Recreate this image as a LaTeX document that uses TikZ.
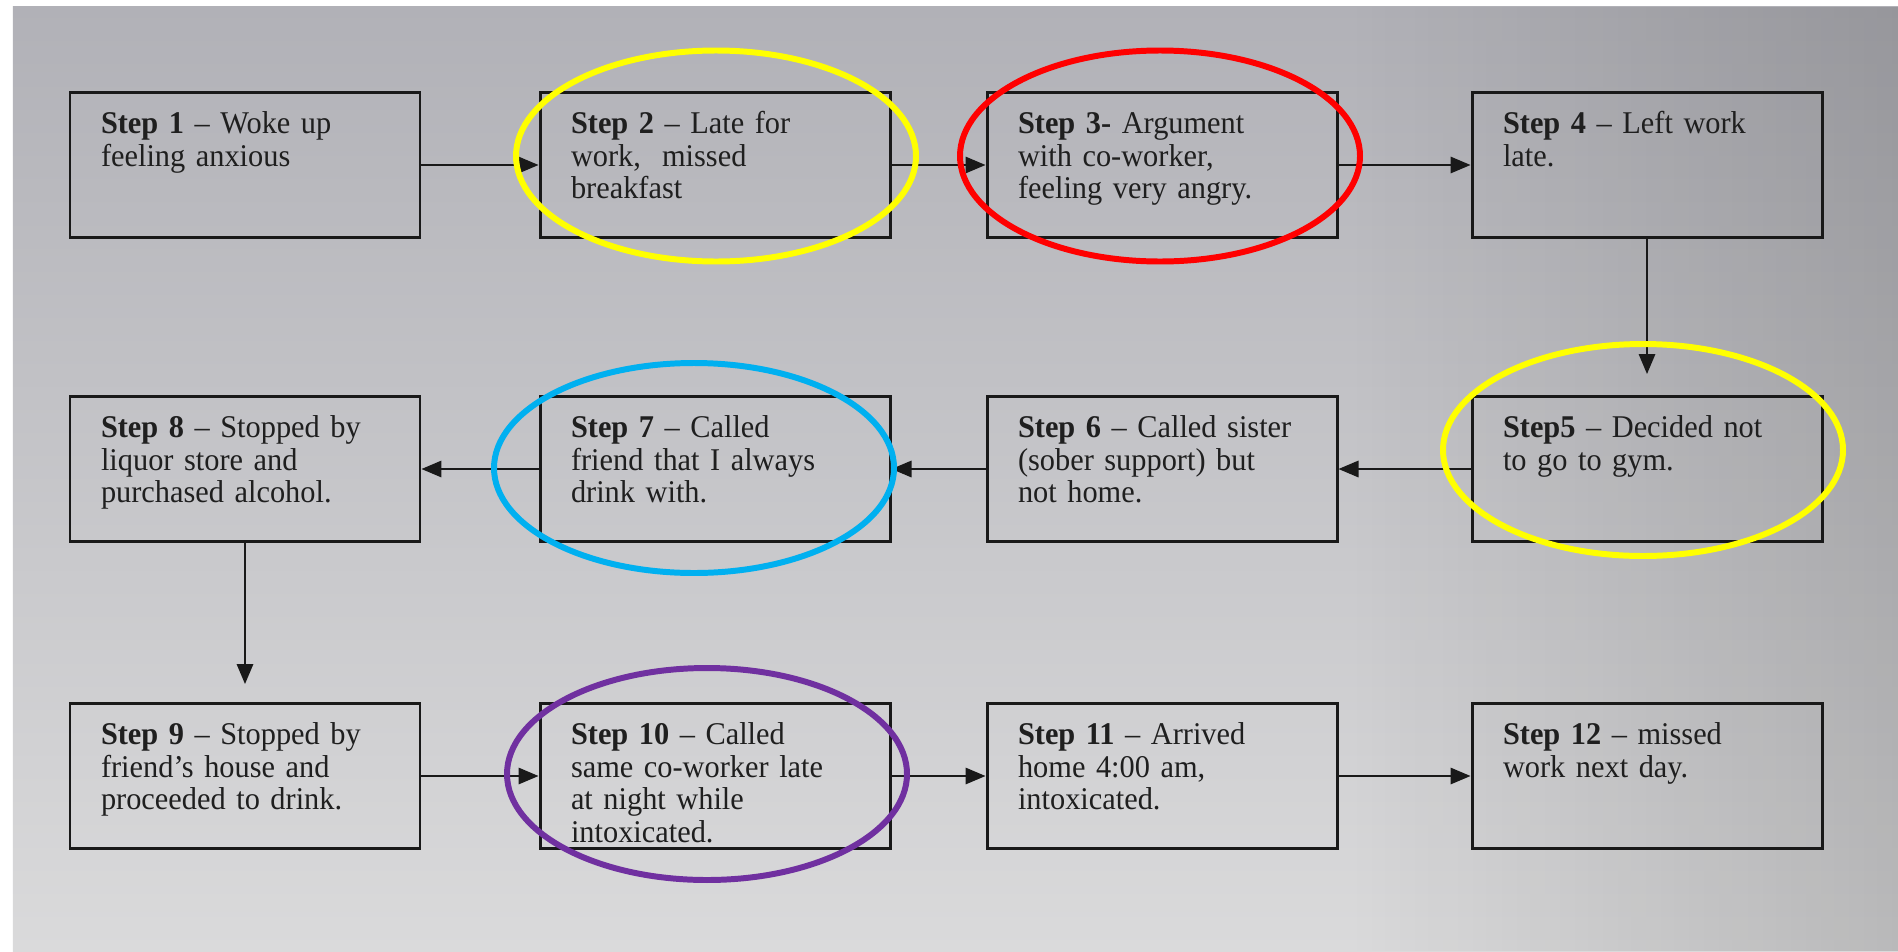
\documentclass[tikz,border=0pt]{standalone}
\usepackage{fontspec}
\setmainfont[FakeStretch=0.96]{Liberation Serif}
\usetikzlibrary{arrows.meta,fadings}
\definecolor{papertop}{HTML}{B1B1B7}
\definecolor{papermid}{HTML}{D5D5D7}
\definecolor{paperbottom}{HTML}{DADADB}
\definecolor{ringyellow}{HTML}{FFFF00}
\definecolor{ringred}{HTML}{FF0000}
\definecolor{ringblue}{HTML}{00B0F0}
\definecolor{ringpurple}{HTML}{7030A0}
\begin{document}
\begin{tikzpicture}[
	stepbox/.style={draw=black!90, line width=1.7pt, inner xsep=0.62cm, inner ysep=0pt,
		text width=5.76cm, align=left, text height=0.82cm, text depth=2.08cm,
		font=\fontsize{18}{18.5}\selectfont, text=black!88},
	flow/.style={line width=0.9pt, draw=black!90, -{Triangle[length=0.4cm,width=0.33cm]}},
	ring/.style={line width=3.4pt}]
		\useasboundingbox (0,0) rectangle (37.96,-19.02);
		\fill[white] (0,0) rectangle (37.96,-19.02);
		% photo background
		\shade[top color=papertop, middle color=papermid, bottom color=paperbottom]
			(0.26,-0.12) rectangle (37.96,-19.02);
		\fill[black, opacity=0.15, path fading=west] (27,-0.12) rectangle (37.96,-19.02);
		%
		\node (s1)   at (4.90,-3.3)   [stepbox] {\textbf{Step 1} – Woke up\\feeling anxious};
		\node (s2)   at (14.30,-3.3)  [stepbox] {\textbf{Step 2} – Late for\\work,\ \ missed\\breakfast};
		\node (s3)   at (23.24,-3.3)  [stepbox] {\textbf{Step 3-} Argument\\with co-worker,\\feeling very angry.};
		\node (s4)   at (32.94,-3.3)  [stepbox] {\textbf{Step 4} – Left work\\late.};
		%
		\node (s5)   at (32.94,-9.38) [stepbox] {\textbf{Step5} – Decided not\\to go to gym.};
		\node (s6)   at (23.24,-9.38) [stepbox] {\textbf{Step 6} – Called sister\\(sober support) but\\not home.};
		\node (s7)   at (14.30,-9.38) [stepbox] {\textbf{Step 7} – Called\\friend that I always\\drink with.};
		\node (s8)   at (4.90,-9.38)  [stepbox] {\textbf{Step 8} – Stopped by\\liquor store and\\purchased alcohol.};
		%
		\node (s9)   at (4.90,-15.52)  [stepbox] {\textbf{Step 9} – Stopped by\\friend’s house and\\proceeded to drink.};
		\node (s10)  at (14.30,-15.52) [stepbox] {\textbf{Step 10} – Called\\same co-worker late\\at night while\\intoxicated.};
		\node (s11)  at (23.24,-15.52) [stepbox] {\textbf{Step 11} – Arrived\\home 4:00 am,\\intoxicated.};
		\node (s12)  at (32.94,-15.52) [stepbox] {\textbf{Step 12} – missed\\work next day.};
		%
		\draw[flow] (s1) -- (s2);
		\draw[flow] (s2) -- (s3);
		\draw[flow] (s3) -- (s4);
		\draw[flow, shorten >=0.42cm] (s4) -- (s5);
		% 2
		\draw[flow] (s5) -- (s6);
		\draw[flow] (s6) -- (s7);
		\draw[flow] (s7) -- (s8);
		\draw[flow, shorten >=0.36cm] (s8) -- (s9);
		% 3
		\draw[flow] (s9) -- (s10);
		\draw[flow] (s10) -- (s11);
		\draw[flow] (s11) -- (s12);
		%
		\draw[ring, ringyellow] (14.32,-3.12) ellipse [x radius=4cm, y radius=2.11cm];
		\draw[ring, ringred]    (23.2,-3.12)  ellipse [x radius=4cm, y radius=2.11cm];
		\draw[ring, ringyellow] (32.86,-9.0)  ellipse [x radius=4cm, y radius=2.12cm];
		\draw[ring, ringblue]   (13.88,-9.36) ellipse [x radius=4cm, y radius=2.1cm];
		\draw[ring, ringpurple] (14.14,-15.48) ellipse [x radius=4cm, y radius=2.12cm];
	\end{tikzpicture}
\end{document}
